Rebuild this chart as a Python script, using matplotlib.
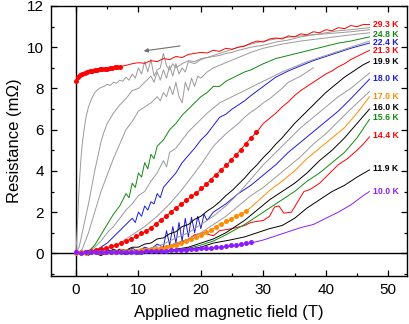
import matplotlib
matplotlib.use("Agg")
import matplotlib.pyplot as plt
from matplotlib.ticker import MultipleLocator

plt.rcParams['font.family'] = ['Liberation Sans', 'DejaVu Sans']

GRAY = '#9a9a9a'
RED = '#ff0000'
GREEN = '#108a10'
BLUE = '#1c1cd8'
ORANGE = '#ff8c00'
PURPLE = '#8a1cff'
BLACK = '#000000'

# ---------------- data (field in T, resistance in mOhm) ----------------
# 29.3 K
b293 = [7, 8, 9, 10, 11, 12, 13, 14, 15, 16, 17, 18, 19, 20, 21, 22, 23, 24, 25, 26, 27, 28, 29, 30,
        31, 32, 33, 34, 35, 36, 37, 38, 39, 40, 41, 42, 43, 44, 45, 46, 47]
r293 = [9.06, 9.12, 9.2, 9.25, 9.22, 9.35, 9.3, 9.45, 9.4, 9.55, 9.5, 9.65, 9.7, 9.75, 9.72, 9.85, 9.8,
        9.95, 9.9, 10.0, 10.05, 10.2, 10.3, 10.25, 10.4, 10.45, 10.4, 10.55, 10.5, 10.65, 10.6, 10.75,
        10.7, 10.85, 10.8, 10.95, 10.9, 11.05, 11.0, 11.1, 11.1]
b293_dots = [0, 0.3, 0.6, 1.0, 1.4, 1.8, 2.2, 2.6, 3.0, 3.4, 3.8, 4.2, 4.6, 5.0, 5.4, 5.8, 6.2, 6.6, 7.0]
r293_dots = [8.38, 8.55, 8.65, 8.72, 8.77, 8.8, 8.83, 8.86, 8.88, 8.9, 8.92, 8.93, 8.95, 8.96, 8.98,
             9.0, 9.02, 9.04, 9.06]

# gray curve B (between 29.3 K and 24.8 K)
bgB = [0, 0.2, 0.4, 0.6, 0.8, 1.0, 1.3, 1.6, 2.0, 2.5, 3.0, 3.5, 4, 4.5, 5, 5.5, 6, 6.5, 7, 7.5, 8, 8.5,
       9, 9.5, 10, 10.5, 11, 11.5, 12, 12.5, 13, 13.5, 14, 14.5, 15, 15.5, 16, 17, 18, 19, 20, 21, 22,
       23, 24, 25, 26, 28, 30, 32, 34, 36, 38, 40, 42, 44, 47]
rgB = [0, 1.2, 2.6, 3.7, 4.6, 5.3, 6.0, 6.6, 7.1, 7.5, 7.8, 7.95, 8.05, 8.1, 8.2, 8.15, 8.3, 8.25, 8.4,
       8.35, 8.55, 8.4, 8.7, 8.5, 9.0, 8.7, 9.3, 8.8, 9.4, 8.6, 8.9, 9.0, 9.7, 9.1, 8.9, 9.2, 9.0, 9.2,
       9.35, 9.3, 9.45, 9.5, 9.55, 9.6, 9.7, 9.75, 9.85, 10.0, 10.1, 10.25, 10.35, 10.5, 10.6, 10.7,
       10.8, 10.85, 10.95]
# gray curve C
bgC = [0, 0.5, 1, 1.5, 2, 2.5, 3, 3.5, 4, 4.5, 5, 6, 7, 8, 9, 10, 11, 12, 12.5, 13, 13.5, 14, 14.5, 15,
       15.5, 16, 16.5, 17, 17.5, 18, 19, 20, 22, 24, 26, 28, 30, 33, 36, 40, 44, 47]
rgC = [0, 0.3, 1.0, 1.7, 2.4, 3.2, 4.0, 4.7, 5.4, 5.9, 6.3, 6.8, 7.2, 7.5, 7.9, 8.0, 8.3, 8.6, 8.3, 8.8,
       8.4, 8.9, 8.5, 9.1, 8.6, 9.2, 8.7, 9.0, 8.8, 9.3, 9.2, 9.4, 9.6, 9.8, 10.0, 10.15, 10.3, 10.45,
       10.55, 10.65, 10.75, 10.85]
# gray curve D
bgD = [0.5, 1, 2, 3, 4, 5, 6, 7, 8, 9, 10, 11, 12, 13, 13.5, 14, 14.5, 15, 15.5, 16, 16.5, 17, 17.5,
       18, 18.5, 19, 19.5, 20, 21, 22, 24, 26, 28, 30, 33, 36, 40, 44, 47]
rgD = [0, 0.2, 1.0, 2.0, 3.0, 3.8, 4.6, 5.3, 6.0, 6.4, 6.9, 7.1, 7.3, 7.6, 7.4, 7.8, 7.6, 8.1, 7.7,
       8.3, 7.6, 7.3, 8.3, 7.9, 8.5, 8.1, 8.6, 8.5, 8.8, 9.0, 9.25, 9.5, 9.75, 9.95, 10.15, 10.3, 10.45,
       10.6, 10.7]
# 24.8 K
b248 = [0, 1, 2, 3, 4, 5, 6, 7, 8, 8.5, 9, 9.5, 10, 10.5, 11, 11.5, 12, 12.5, 13, 14, 15, 16, 17, 18,
        19, 20, 21, 22, 23, 24, 25, 26, 27, 28, 30, 32, 34, 36, 38, 40, 42, 44, 47]
r248 = [0, 0.02, 0.1, 0.4, 0.9, 1.4, 1.9, 2.3, 2.9, 2.7, 3.4, 3.2, 3.9, 3.7, 4.4, 4.1, 4.8, 4.6, 5.2,
        5.5, 6.0, 6.3, 6.7, 7.0, 7.3, 7.6, 7.8, 8.1, 8.1, 8.35, 8.5, 8.65, 8.8, 8.9, 9.2, 9.45, 9.6,
        9.75, 9.9, 10.05, 10.2, 10.3, 10.5]
# gray curve E
bgE = [0, 1, 2, 3, 4, 5, 6, 7, 8, 9, 10, 11, 12, 13, 14, 14.5, 15, 16, 17, 18, 19, 20, 21, 22, 23, 24,
       25, 27, 29, 31, 33, 35, 37, 39, 41, 43, 45, 47]
rgE = [0, 0, 0.1, 0.3, 0.6, 1.0, 1.3, 1.7, 2.1, 2.4, 2.8, 3.0, 3.5, 3.9, 4.5, 4.2, 4.9, 5.1, 5.5, 5.9,
       6.2, 6.5, 6.8, 7.05, 7.3, 7.45, 7.6, 7.9, 8.2, 8.5, 8.8, 9.05, 9.3, 9.5, 9.7, 9.9, 10.1, 10.3]
# 22.4 K
b224 = [0, 2, 3, 4, 5, 6, 7, 8, 9, 9.5, 10, 10.5, 11, 11.5, 12, 12.5, 13, 13.5, 14, 15, 16, 17, 18, 19,
        20, 21, 22, 23, 24, 25, 26, 27, 28, 30, 32, 34, 36, 38, 40, 42, 44, 47]
r224 = [0, 0.02, 0.1, 0.3, 0.5, 0.8, 1.1, 1.4, 1.7, 1.5, 2.0, 1.8, 2.3, 2.1, 2.5, 2.4, 2.9, 2.7, 3.2,
        3.55, 3.9, 4.4, 4.75, 5.1, 5.5, 5.8, 6.2, 6.6, 6.75, 7.0, 7.2, 7.4, 7.65, 8.1, 8.55, 8.85, 9.1,
        9.35, 9.55, 9.75, 9.95, 10.2]
# gray curve F (ends early)
bgF = [0, 3, 5, 7, 9, 11, 13, 14, 15, 16, 17, 18, 19, 20, 21, 22, 23, 24, 25, 26, 27, 28, 29, 30, 31,
       32, 33, 34, 35, 36, 37, 38]
rgF = [0, 0.05, 0.2, 0.5, 0.9, 1.3, 1.8, 2.1, 2.4, 2.75, 3.1, 3.5, 3.9, 4.3, 4.75, 5.2, 5.5, 5.8, 6.05,
       6.3, 6.6, 6.85, 7.05, 7.3, 7.5, 7.75, 8.0, 8.3, 8.45, 8.6, 8.8, 9.0]
# 21.3 K
b213 = [0, 2, 4, 6, 8, 10, 12, 14, 16, 18, 20, 22, 24, 26, 28, 29, 30, 31, 32, 33, 34, 35, 36, 37, 38,
        39, 40, 41, 42, 43, 44, 45, 46, 47]
r213 = [0, 0.1, 0.2, 0.35, 0.6, 0.85, 1.25, 1.7, 2.2, 2.65, 3.1, 3.7, 4.25, 4.9, 5.6, 5.9, 6.3, 6.55,
        6.8, 7.1, 7.35, 7.65, 7.9, 8.1, 8.3, 8.5, 8.7, 8.85, 9.05, 9.2, 9.4, 9.55, 9.7, 9.85]
b213_dots = [0, 0.8, 1.6, 2.4, 3.2, 4.0, 4.8, 5.6, 6.4, 7.2, 8.0, 8.8, 9.6, 10.4, 11.2, 12.0, 12.8, 13.6,
             14.4, 15.2, 16.0, 16.8, 17.6, 18.4, 19.2, 20.0, 20.8, 21.6, 22.4, 23.2, 24.0, 24.8, 25.6,
             26.4, 27.2, 28.0, 28.8]
r213_dots = [0.05, 0.06, 0.08, 0.1, 0.15, 0.22, 0.28, 0.35, 0.42, 0.5, 0.6, 0.72, 0.84, 0.97, 1.1, 1.25,
             1.42, 1.6, 1.8, 2.0, 2.2, 2.4, 2.58, 2.76, 2.95, 3.15, 3.37, 3.58, 3.8, 4.03, 4.27, 4.52,
             4.77, 5.02, 5.3, 5.58, 5.88]
# 19.9 K
b199 = [0, 1, 2, 3, 4, 5, 6, 7, 8, 9, 10, 11, 12, 13, 14, 15, 16, 17, 18, 19, 20, 21, 22, 23, 24, 25,
        26, 27, 28, 29, 30, 31, 32, 33, 34, 35, 36, 37, 38, 39, 40, 41, 42, 43, 44, 45, 46, 47]
r199 = [0, 0.05, -0.05, 0.1, 0.0, 0.15, 0.05, 0.2, 0.15, 0.3, 0.3, 0.45, 0.5, 0.7, 0.75, 0.95, 1.05,
        1.3, 1.4, 1.65, 1.8, 2.05, 2.25, 2.5, 2.8, 3.05, 3.35, 3.65, 4.0, 4.3, 4.65, 4.95, 5.3, 5.6,
        5.95, 6.3, 6.6, 6.9, 7.2, 7.5, 7.8, 8.05, 8.3, 8.55, 8.75, 8.95, 9.15, 9.3]
# gray curve G
bgG = [0, 2, 4, 6, 8, 10, 12, 14, 15, 16, 18, 20, 22, 24, 26, 28, 30, 32, 34, 36, 38, 40, 42, 44, 47]
rgG = [0, 0.08, -0.05, 0.1, 0.05, 0.15, 0.25, 0.45, 0.6, 0.75, 1.0, 1.4, 1.8, 2.3, 2.9, 3.6, 4.3, 4.9,
       5.5, 6.1, 6.6, 7.1, 7.6, 8.0, 8.75]
# 18.0 K
b180 = [0, 1, 2, 3, 4, 5, 6, 7, 8, 9, 10, 11, 12, 13, 14, 14.5, 15, 15.5, 16, 16.5, 17, 17.5, 18, 18.5,
        19, 19.5, 20, 20.5, 21, 22, 24, 26, 28, 30, 32, 34, 36, 38, 40, 42, 44, 47]
r180 = [0, 0.1, -0.1, 0.15, 0.0, 0.2, 0.05, 0.15, 0.1, 0.25, 0.1, 0.3, 0.2, 0.45, 0.3, 1.1, 0.4, 1.3,
        0.5, 1.5, 0.6, 1.7, 0.8, 1.75, 1.0, 1.8, 1.2, 1.9, 1.6, 2.0, 2.4, 2.9, 3.3, 3.8, 4.3, 4.9, 5.4,
        5.9, 6.4, 6.9, 7.5, 8.45]
# gray curve H
bgH = [0, 2, 4, 6, 8, 10, 12, 14, 16, 18, 20, 22, 24, 26, 28, 30, 32, 34, 36, 38, 40, 42, 44, 47]
rgH = [0, 0.1, 0.0, 0.12, 0.05, 0.15, 0.2, 0.3, 0.5, 0.7, 1.0, 1.4, 1.8, 2.3, 2.8, 3.2, 3.7, 4.2, 4.7,
       5.3, 5.8, 6.4, 7.0, 7.85]
# 17.0 K
b170 = [0, 1, 2, 3, 4, 5, 6, 7, 8, 9, 10, 11, 12, 13, 14, 15, 16, 17, 18, 19, 20, 21, 22, 23, 24, 25,
        26, 27.5, 29, 31, 33, 35, 37, 39, 41, 43, 45, 47]
r170 = [0, 0.1, -0.05, 0.15, 0.0, 0.1, -0.05, 0.2, 0.05, 0.15, 0.1, 0.25, 0.15, 0.2, 0.3, 0.25, 0.4,
        0.5, 0.6, 0.75, 0.85, 1.0, 1.2, 1.4, 1.5, 1.7, 1.85, 2.1, 2.5, 3.05, 3.5, 4.0, 4.6, 5.1, 5.6,
        6.1, 6.8, 7.6]
b170_dots = [0, 0.8, 1.6, 2.4, 3.2, 4.0, 4.8, 5.6, 6.4, 7.2, 8.0, 8.8, 9.6, 10.4, 11.2, 12.0, 12.8,
             13.6, 14.4, 15.2, 16.0, 16.8, 17.6, 18.4, 19.2, 20.0, 20.8, 21.6, 22.4, 23.2, 24.0, 24.8,
             25.6, 26.4, 27.2]
r170_dots = [0.03, 0.05, 0.04, 0.06, 0.05, 0.07, 0.06, 0.08, 0.08, 0.1, 0.1, 0.12, 0.13, 0.15, 0.17,
             0.2, 0.22, 0.25, 0.3, 0.36, 0.42, 0.5, 0.58, 0.68, 0.78, 0.9, 1.02, 1.15, 1.28, 1.42, 1.55,
             1.68, 1.8, 1.92, 2.05]
# 16.0 K
b160 = [0, 2, 4, 6, 8, 10, 12, 14, 16, 18, 20, 22, 24, 27, 29, 31, 33, 35, 37, 39, 41, 43, 45, 47]
r160 = [0, 0.15, -0.1, 0.2, -0.05, 0.15, 0.0, 0.1, 0.2, 0.3, 0.5, 0.7, 1.0, 1.6, 2.1, 2.6, 3.0, 3.4,
        3.9, 4.5, 5.0, 5.6, 6.3, 7.0]
# 15.6 K
b156 = [0, 2, 4, 6, 8, 10, 12, 14, 16, 18, 20, 22, 24, 27, 29, 31, 33, 35, 37, 39, 41, 43, 45, 47]
r156 = [0, -0.05, 0.1, 0.0, 0.12, -0.05, 0.1, 0.05, 0.15, 0.25, 0.4, 0.6, 0.9, 1.4, 1.8, 2.2, 2.6, 3.0,
        3.5, 3.9, 4.4, 4.9, 5.6, 6.5]
# 14.4 K
b144 = [0, 2, 4, 6, 8, 10, 12, 14, 16, 17.8, 19, 20.4, 22, 23, 25, 27, 28, 29, 30, 31, 31.8, 32.5,
        33.3, 34.5, 35.5, 36.5, 37.5, 39, 41, 42, 43.5, 45, 46, 47]
r144 = [0, 0.1, -0.1, 0.15, 0.0, 0.05, 0.1, 0.2, 0.45, 0.65, 0.9, 1.0, 0.85, 1.1, 1.2, 1.35, 1.5, 1.55,
        1.6, 1.8, 2.25, 2.3, 1.95, 2.0, 2.5, 3.0, 3.1, 3.4, 4.0, 4.3, 4.6, 5.0, 5.3, 5.65]
# 11.9 K
b119 = [0, 2, 4, 6, 8, 10, 12, 15, 18, 20, 22, 24.7, 27, 29, 31, 33, 35, 37, 39, 41, 43, 45, 47]
r119 = [0, 0.1, 0.0, 0.15, -0.05, 0.1, 0.05, 0.1, 0.2, 0.3, 0.5, 0.65, 0.8, 1.0, 1.2, 1.35, 1.7, 2.2,
        2.6, 3.0, 3.3, 3.7, 4.05]
# 10.0 K
b100 = [0, 5, 10, 15, 20, 25, 28, 30, 32, 34, 36, 38, 40, 42, 44, 46, 47]
r100 = [0, 0.05, 0.08, 0.12, 0.2, 0.35, 0.5, 0.65, 0.85, 1.05, 1.25, 1.4, 1.7, 2.0, 2.35, 2.8, 3.0]
b100_dots = [0, 0.8, 1.6, 2.4, 3.2, 4.0, 4.8, 5.6, 6.4, 7.2, 8.0, 8.8, 9.6, 10.4, 11.2, 12.0, 12.8, 13.6,
             14.4, 15.2, 16.0, 16.8, 17.6, 18.4, 19.2, 20.0, 20.8, 21.6, 22.4, 23.2, 24.0, 24.8, 25.6,
             26.4, 27.2, 28.0]
r100_dots = [0.05, 0.04, 0.06, 0.05, 0.07, 0.05, 0.06, 0.08, 0.07, 0.06, 0.08, 0.07, 0.09, 0.08, 0.1,
             0.1, 0.11, 0.12, 0.13, 0.14, 0.15, 0.16, 0.18, 0.2, 0.22, 0.24, 0.25, 0.28, 0.3, 0.33, 0.36,
             0.4, 0.43, 0.47, 0.5, 0.53]

labels = ['29.3 K', '24.8 K', '22.4 K', '21.3 K', '19.9 K', '18.0 K', '17.0 K', '16.0 K', '15.6 K',
          '14.4 K', '11.9 K', '10.0 K']
label_y = [11.09, 10.63, 10.22, 9.84, 9.32, 8.48, 7.59, 7.08, 6.6, 5.7, 4.13, 3.0]
label_colors = [RED, GREEN, BLUE, RED, BLACK, BLUE, ORANGE, BLACK, GREEN, RED, BLACK, PURPLE]

# ---------------- figure ----------------
fig = plt.figure(figsize=(4.09, 3.24), dpi=100)
ax = fig.add_axes([0.1247, 0.148, 0.8703, 0.8335])

lw = 0.7
ax.axhline(0, color='black', lw=1.0, zorder=1)
ax.axvline(0, color='black', lw=1.0, zorder=1)

curves = [
    (b100, r100, PURPLE), (b119, r119, BLACK), (b144, r144, RED), (b156, r156, GREEN),
    (b160, r160, BLACK), (b170, r170, ORANGE), (bgH, rgH, GRAY), (b180, r180, BLUE),
    (bgG, rgG, GRAY), (b199, r199, BLACK), (b213, r213, RED), (bgF, rgF, GRAY),
    (b224, r224, BLUE), (bgE, rgE, GRAY), (b248, r248, GREEN), (bgD, rgD, GRAY),
    (bgC, rgC, GRAY), (bgB, rgB, GRAY), (b293, r293, RED), (b293_dots, r293_dots, RED),
]
for bx, ry, c in curves:
    ax.plot(bx, ry, color=c, lw=lw, zorder=2)

ms = 3.6
ax.plot(b213_dots, r213_dots, 'o', color=RED, ms=ms, mec='none', zorder=3)
ax.plot(b170_dots, r170_dots, 'o', color=ORANGE, ms=ms, mec='none', zorder=3)
ax.plot(b100_dots, r100_dots, 'o', color=PURPLE, ms=ms, mec='none', zorder=3)
ax.plot(b293_dots, r293_dots, 'o', color=RED, ms=ms, mec='none', zorder=3)

for t, y, c in zip(labels, label_y, label_colors):
    ax.text(47.6, y, t, color=c, fontsize=6.2, fontweight='bold', ha='left', va='center')

ax.annotate('', xy=(10.4, 9.8), xytext=(17.1, 10.08),
            arrowprops=dict(arrowstyle='-|>', color='#707070', lw=0.8, mutation_scale=6))

ax.set_xlim(-4, 53)
ax.set_ylim(-1.1, 12)
ax.xaxis.set_major_locator(MultipleLocator(10))
ax.xaxis.set_minor_locator(MultipleLocator(5))
ax.yaxis.set_major_locator(MultipleLocator(2))
ax.yaxis.set_minor_locator(MultipleLocator(1))
ax.set_yticks([0, 2, 4, 6, 8, 10, 12])
ax.tick_params(which='both', direction='in', top=True, right=True, width=0.9)
ax.tick_params(which='major', length=4, labelsize=11, pad=5)
ax.tick_params(which='minor', length=2)
for s in ax.spines.values():
    s.set_linewidth(1.0)

ax.set_xlabel('Applied magnetic field (T)', fontsize=12, labelpad=6)
ax.set_ylabel('Resistance (m\u03a9)', fontsize=12, labelpad=4)

fig.savefig('out.png', dpi=100)
